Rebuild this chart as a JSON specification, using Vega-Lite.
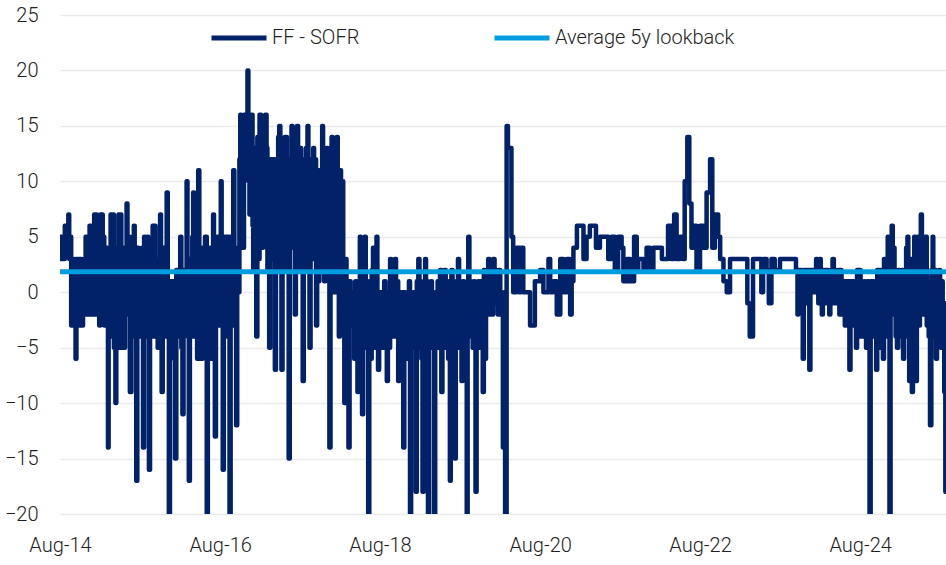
{
  "$schema": "https://vega.github.io/schema/vega-lite/v6.json",
  "width": 886,
  "height": 499,
  "autosize": {"type": "none"},
  "padding": {"left": 60, "top": 15, "right": 0, "bottom": 51},
  "background": "white",
  "config": {
    "view": {"stroke": null},
    "font": "Roboto",
    "axis": {"labelFont": "Roboto", "labelFontSize": 20, "labelColor": "#222222", "labelFontWeight": 300},
    "legend": {"labelFont": "Roboto", "labelFontSize": 20, "labelColor": "#222222", "labelFontWeight": 300}
  },
  "datasets": {
    "ff": [
      {"d":"2014-08-01","v":5},{"d":"2014-08-06","v":3},{"d":"2014-08-11","v":5},{"d":"2014-08-17","v":3},{"d":"2014-08-23","v":6},{"d":"2014-08-30","v":4},
      {"d":"2014-09-04","v":5},{"d":"2014-09-08","v":7},{"d":"2014-09-12","v":3},{"d":"2014-09-16","v":5},{"d":"2014-09-21","v":-3},{"d":"2014-09-26","v":3},
      {"d":"2014-09-30","v":-3},{"d":"2014-10-05","v":3},{"d":"2014-10-08","v":-2},{"d":"2014-10-11","v":-6},{"d":"2014-10-15","v":3},{"d":"2014-10-20","v":-2},
      {"d":"2014-10-25","v":3},{"d":"2014-11-01","v":-3},{"d":"2014-11-05","v":3},{"d":"2014-11-08","v":-3},{"d":"2014-11-14","v":2},{"d":"2014-11-20","v":-2},
      {"d":"2014-11-26","v":5},{"d":"2014-12-01","v":-2},{"d":"2014-12-05","v":5},{"d":"2014-12-08","v":-2},{"d":"2014-12-14","v":6},{"d":"2014-12-20","v":-2},
      {"d":"2014-12-25","v":6},{"d":"2014-12-30","v":-1},{"d":"2015-01-04","v":7},{"d":"2015-01-08","v":-2},{"d":"2015-01-12","v":7},{"d":"2015-01-16","v":-2},
      {"d":"2015-01-22","v":5},{"d":"2015-01-27","v":-3},{"d":"2015-02-01","v":7},{"d":"2015-02-05","v":-2},{"d":"2015-02-08","v":7},{"d":"2015-02-12","v":-2},
      {"d":"2015-02-15","v":5},{"d":"2015-02-19","v":-3},{"d":"2015-02-22","v":4},{"d":"2015-02-26","v":-3},{"d":"2015-03-02","v":4},{"d":"2015-03-05","v":-2},
      {"d":"2015-03-08","v":-14},{"d":"2015-03-11","v":4},{"d":"2015-03-16","v":-4},{"d":"2015-03-20","v":7},{"d":"2015-03-25","v":0},{"d":"2015-03-30","v":7},
      {"d":"2015-04-04","v":-5},{"d":"2015-04-08","v":3},{"d":"2015-04-11","v":-10},{"d":"2015-04-15","v":4},{"d":"2015-04-20","v":-1},{"d":"2015-04-25","v":7},
      {"d":"2015-05-01","v":-5},{"d":"2015-05-05","v":7},{"d":"2015-05-08","v":-1},{"d":"2015-05-13","v":4},{"d":"2015-05-19","v":-5},{"d":"2015-05-25","v":4},
      {"d":"2015-06-01","v":8},{"d":"2015-06-05","v":-2},{"d":"2015-06-11","v":5},{"d":"2015-06-16","v":-9},{"d":"2015-06-23","v":3},{"d":"2015-06-28","v":-3},
      {"d":"2015-07-04","v":6},{"d":"2015-07-08","v":-4},{"d":"2015-07-11","v":3},{"d":"2015-07-15","v":-17},{"d":"2015-07-20","v":4},{"d":"2015-07-25","v":-2},
      {"d":"2015-08-01","v":3},{"d":"2015-08-05","v":-4},{"d":"2015-08-11","v":4},{"d":"2015-08-15","v":-14},{"d":"2015-08-20","v":5},{"d":"2015-08-25","v":-4},
      {"d":"2015-08-30","v":4},{"d":"2015-09-05","v":5},{"d":"2015-09-08","v":-4},{"d":"2015-09-11","v":-16},{"d":"2015-09-16","v":2},{"d":"2015-09-23","v":-4},
      {"d":"2015-09-28","v":6},{"d":"2015-10-04","v":-2},{"d":"2015-10-08","v":6},{"d":"2015-10-11","v":-4},{"d":"2015-10-16","v":3},{"d":"2015-10-21","v":-5},
      {"d":"2015-10-26","v":3},{"d":"2015-11-01","v":7},{"d":"2015-11-05","v":-2},{"d":"2015-11-08","v":-9},{"d":"2015-11-13","v":4},{"d":"2015-11-20","v":-4},
      {"d":"2015-11-25","v":2},{"d":"2015-12-01","v":9},{"d":"2015-12-06","v":-2},{"d":"2015-12-11","v":-25},{"d":"2015-12-16","v":1},{"d":"2015-12-23","v":-4},
      {"d":"2015-12-28","v":1},{"d":"2016-01-03","v":-6},{"d":"2016-01-08","v":-15},{"d":"2016-01-14","v":2},{"d":"2016-01-20","v":-4},{"d":"2016-01-26","v":0},
      {"d":"2016-02-01","v":5},{"d":"2016-02-06","v":-5},{"d":"2016-02-11","v":-11},{"d":"2016-02-16","v":2},{"d":"2016-02-23","v":-3},{"d":"2016-03-01","v":10},
      {"d":"2016-03-05","v":-4},{"d":"2016-03-11","v":-17},{"d":"2016-03-16","v":3},{"d":"2016-03-23","v":-4},{"d":"2016-03-27","v":5},{"d":"2016-03-31","v":9},
      {"d":"2016-04-04","v":-4},{"d":"2016-04-08","v":-2},{"d":"2016-04-14","v":6},{"d":"2016-04-18","v":-6},{"d":"2016-04-23","v":11},{"d":"2016-04-28","v":-2},
      {"d":"2016-05-03","v":4},{"d":"2016-05-08","v":-6},{"d":"2016-05-13","v":4},{"d":"2016-05-18","v":-2},{"d":"2016-05-24","v":5},{"d":"2016-06-01","v":-25},
      {"d":"2016-06-06","v":3},{"d":"2016-06-11","v":-4},{"d":"2016-06-16","v":4},{"d":"2016-06-23","v":-6},{"d":"2016-06-30","v":7},{"d":"2016-07-04","v":-3},
      {"d":"2016-07-08","v":-13},{"d":"2016-07-13","v":4},{"d":"2016-07-18","v":5},{"d":"2016-07-23","v":-3},{"d":"2016-07-28","v":5},{"d":"2016-08-04","v":10},
      {"d":"2016-08-08","v":-3},{"d":"2016-08-13","v":-16},{"d":"2016-08-18","v":5},{"d":"2016-08-23","v":-4},{"d":"2016-08-28","v":5},{"d":"2016-09-03","v":-4},
      {"d":"2016-09-08","v":5},{"d":"2016-09-13","v":-25},{"d":"2016-09-18","v":5},{"d":"2016-09-24","v":-2},{"d":"2016-09-30","v":11},{"d":"2016-10-05","v":-3},
      {"d":"2016-10-09","v":4},{"d":"2016-10-13","v":-12},{"d":"2016-10-18","v":4},{"d":"2016-10-23","v":0},{"d":"2016-10-28","v":12},{"d":"2016-11-01","v":16},
      {"d":"2016-11-05","v":4},{"d":"2016-11-09","v":15},{"d":"2016-11-13","v":4},{"d":"2016-11-18","v":16},{"d":"2016-11-23","v":12},{"d":"2016-11-28","v":16},
      {"d":"2016-12-04","v":20},{"d":"2016-12-08","v":10},{"d":"2016-12-13","v":7},{"d":"2016-12-18","v":14},{"d":"2016-12-23","v":16},{"d":"2016-12-27","v":6},
      {"d":"2016-12-30","v":2},{"d":"2017-01-04","v":13},{"d":"2017-01-08","v":4},{"d":"2017-01-13","v":-4},{"d":"2017-01-18","v":14},{"d":"2017-01-23","v":3},
      {"d":"2017-01-28","v":16},{"d":"2017-02-01","v":16},{"d":"2017-02-04","v":6},{"d":"2017-02-08","v":4},{"d":"2017-02-13","v":15},{"d":"2017-02-18","v":6},
      {"d":"2017-02-23","v":16},{"d":"2017-03-01","v":13},{"d":"2017-03-05","v":2},{"d":"2017-03-09","v":12},{"d":"2017-03-13","v":-5},{"d":"2017-03-18","v":12},
      {"d":"2017-03-23","v":12},{"d":"2017-03-28","v":3},{"d":"2017-04-03","v":12},{"d":"2017-04-08","v":-7},{"d":"2017-04-13","v":10},{"d":"2017-04-18","v":3},
      {"d":"2017-04-23","v":14},{"d":"2017-04-28","v":15},{"d":"2017-05-03","v":2},{"d":"2017-05-08","v":-7},{"d":"2017-05-13","v":13},{"d":"2017-05-18","v":3},
      {"d":"2017-05-23","v":14},{"d":"2017-05-28","v":14},{"d":"2017-06-02","v":2},{"d":"2017-06-06","v":12},{"d":"2017-06-10","v":-15},{"d":"2017-06-15","v":12},
      {"d":"2017-06-19","v":4},{"d":"2017-06-23","v":15},{"d":"2017-06-28","v":5},{"d":"2017-07-03","v":13},{"d":"2017-07-08","v":-2},{"d":"2017-07-13","v":12},
      {"d":"2017-07-18","v":15},{"d":"2017-07-23","v":3},{"d":"2017-07-27","v":2},{"d":"2017-08-01","v":13},{"d":"2017-08-06","v":4},{"d":"2017-08-13","v":-8},
      {"d":"2017-08-18","v":12},{"d":"2017-08-23","v":2},{"d":"2017-08-28","v":13},{"d":"2017-09-04","v":15},{"d":"2017-09-08","v":4},{"d":"2017-09-13","v":-5},
      {"d":"2017-09-18","v":12},{"d":"2017-09-24","v":3},{"d":"2017-09-30","v":13},{"d":"2017-10-04","v":4},{"d":"2017-10-08","v":12},{"d":"2017-10-13","v":-3},
      {"d":"2017-10-18","v":10},{"d":"2017-10-23","v":1},{"d":"2017-10-28","v":11},{"d":"2017-11-03","v":4},{"d":"2017-11-10","v":15},{"d":"2017-11-14","v":2},
      {"d":"2017-11-19","v":1},{"d":"2017-11-24","v":12},{"d":"2017-12-01","v":13},{"d":"2017-12-05","v":2},{"d":"2017-12-09","v":12},{"d":"2017-12-13","v":-14},
      {"d":"2017-12-18","v":11},{"d":"2017-12-23","v":14},{"d":"2017-12-28","v":1},{"d":"2018-01-04","v":0},{"d":"2018-01-09","v":12},{"d":"2018-01-13","v":2},
      {"d":"2018-01-16","v":14},{"d":"2018-01-20","v":1},{"d":"2018-01-25","v":-4},{"d":"2018-01-30","v":11},{"d":"2018-02-04","v":1},{"d":"2018-02-08","v":10},
      {"d":"2018-02-14","v":0},{"d":"2018-02-19","v":-10},{"d":"2018-02-24","v":3},{"d":"2018-03-01","v":1},{"d":"2018-03-05","v":-5},{"d":"2018-03-10","v":-14},
      {"d":"2018-03-15","v":1},{"d":"2018-03-20","v":-3},{"d":"2018-03-25","v":0},{"d":"2018-03-31","v":0},{"d":"2018-04-05","v":-6},{"d":"2018-04-10","v":1},
      {"d":"2018-04-15","v":-4},{"d":"2018-04-20","v":-9},{"d":"2018-04-25","v":0},{"d":"2018-05-01","v":5},{"d":"2018-05-05","v":-4},{"d":"2018-05-11","v":-11},
      {"d":"2018-05-16","v":2},{"d":"2018-05-20","v":-5},{"d":"2018-05-23","v":5},{"d":"2018-05-28","v":-2},{"d":"2018-06-03","v":1},{"d":"2018-06-08","v":-25},
      {"d":"2018-06-13","v":0},{"d":"2018-06-18","v":-6},{"d":"2018-06-24","v":2},{"d":"2018-06-30","v":4},{"d":"2018-07-04","v":-5},{"d":"2018-07-09","v":0},
      {"d":"2018-07-16","v":5},{"d":"2018-07-20","v":-2},{"d":"2018-07-23","v":-7},{"d":"2018-07-28","v":0},{"d":"2018-08-03","v":-4},{"d":"2018-08-08","v":0},
      {"d":"2018-08-14","v":-5},{"d":"2018-08-20","v":1},{"d":"2018-08-26","v":-4},{"d":"2018-09-01","v":-8},{"d":"2018-09-06","v":0},{"d":"2018-09-11","v":-5},
      {"d":"2018-09-16","v":3},{"d":"2018-09-21","v":-3},{"d":"2018-09-26","v":1},{"d":"2018-10-02","v":-4},{"d":"2018-10-08","v":3},{"d":"2018-10-13","v":-4},
      {"d":"2018-10-18","v":1},{"d":"2018-10-23","v":-8},{"d":"2018-10-28","v":0},{"d":"2018-11-03","v":-5},{"d":"2018-11-08","v":0},{"d":"2018-11-15","v":-14},
      {"d":"2018-11-20","v":0},{"d":"2018-11-25","v":-5},{"d":"2018-12-01","v":0},{"d":"2018-12-06","v":-6},{"d":"2018-12-11","v":1},{"d":"2018-12-16","v":-25},
      {"d":"2018-12-21","v":0},{"d":"2018-12-26","v":-5},{"d":"2018-12-31","v":0},{"d":"2019-01-05","v":-5},{"d":"2019-01-11","v":-18},{"d":"2019-01-16","v":1},
      {"d":"2019-01-23","v":3},{"d":"2019-01-28","v":-5},{"d":"2019-02-02","v":1},{"d":"2019-02-06","v":-6},{"d":"2019-02-11","v":-18},{"d":"2019-02-16","v":0},
      {"d":"2019-02-23","v":3},{"d":"2019-02-27","v":-4},{"d":"2019-03-03","v":1},{"d":"2019-03-08","v":-25},{"d":"2019-03-13","v":0},{"d":"2019-03-18","v":-5},
      {"d":"2019-03-22","v":1},{"d":"2019-03-26","v":0},{"d":"2019-03-31","v":-5},{"d":"2019-04-05","v":-25},{"d":"2019-04-10","v":0},{"d":"2019-04-16","v":-2},
      {"d":"2019-04-21","v":1},{"d":"2019-04-26","v":-5},{"d":"2019-05-02","v":2},{"d":"2019-05-08","v":-9},{"d":"2019-05-13","v":0},{"d":"2019-05-18","v":-4},
      {"d":"2019-05-23","v":2},{"d":"2019-05-28","v":-5},{"d":"2019-06-03","v":1},{"d":"2019-06-08","v":-6},{"d":"2019-06-12","v":0},{"d":"2019-06-16","v":-17},
      {"d":"2019-06-20","v":1},{"d":"2019-06-23","v":2},{"d":"2019-06-28","v":-5},{"d":"2019-07-03","v":1},{"d":"2019-07-08","v":-15},{"d":"2019-07-13","v":0},
      {"d":"2019-07-18","v":-4},{"d":"2019-07-23","v":3},{"d":"2019-07-28","v":-5},{"d":"2019-08-03","v":0},{"d":"2019-08-08","v":-8},{"d":"2019-08-14","v":1},
      {"d":"2019-08-20","v":0},{"d":"2019-08-25","v":-5},{"d":"2019-09-01","v":-25},{"d":"2019-09-05","v":0},{"d":"2019-09-08","v":5},{"d":"2019-09-13","v":-4},
      {"d":"2019-09-18","v":1},{"d":"2019-09-23","v":0},{"d":"2019-09-28","v":-5},{"d":"2019-10-04","v":1},{"d":"2019-10-08","v":-4},{"d":"2019-10-11","v":-18},
      {"d":"2019-10-16","v":0},{"d":"2019-10-23","v":1},{"d":"2019-10-28","v":-5},{"d":"2019-11-03","v":1},{"d":"2019-11-08","v":-4},{"d":"2019-11-13","v":-9},
      {"d":"2019-11-18","v":2},{"d":"2019-11-23","v":-6},{"d":"2019-11-28","v":1},{"d":"2019-12-03","v":-2},{"d":"2019-12-08","v":3},{"d":"2019-12-13","v":-2},
      {"d":"2019-12-18","v":2},{"d":"2019-12-23","v":-2},{"d":"2019-12-31","v":3},{"d":"2020-01-06","v":-1},{"d":"2020-01-11","v":2},{"d":"2020-01-16","v":1},
      {"d":"2020-01-21","v":-2},{"d":"2020-01-26","v":2},{"d":"2020-02-01","v":0},{"d":"2020-02-06","v":-2},{"d":"2020-02-13","v":-14},{"d":"2020-02-18","v":0},
      {"d":"2020-02-23","v":-25},{"d":"2020-03-01","v":15},{"d":"2020-03-07","v":13},{"d":"2020-03-13","v":13},{"d":"2020-03-23","v":5},{"d":"2020-03-31","v":0},
      {"d":"2020-04-16","v":4},{"d":"2020-04-28","v":0},{"d":"2020-05-04","v":4},{"d":"2020-05-16","v":0},{"d":"2020-06-04","v":0},{"d":"2020-06-16","v":-3},
      {"d":"2020-06-30","v":-3},{"d":"2020-07-08","v":1},{"d":"2020-08-01","v":2},{"d":"2020-08-16","v":0},{"d":"2020-09-08","v":3},{"d":"2020-09-16","v":0},
      {"d":"2020-09-30","v":1},{"d":"2020-10-16","v":-2},{"d":"2020-11-01","v":3},{"d":"2020-11-16","v":0},{"d":"2020-12-01","v":3},{"d":"2020-12-16","v":-2},
      {"d":"2020-12-23","v":1},{"d":"2020-12-31","v":4},{"d":"2021-01-16","v":6},{"d":"2021-02-08","v":6},{"d":"2021-02-15","v":3},{"d":"2021-03-01","v":5},
      {"d":"2021-03-16","v":6},{"d":"2021-03-31","v":6},{"d":"2021-04-13","v":4},{"d":"2021-05-01","v":5},{"d":"2021-05-16","v":5},{"d":"2021-06-08","v":3},
      {"d":"2021-06-23","v":5},{"d":"2021-07-08","v":2},{"d":"2021-07-23","v":5},{"d":"2021-08-08","v":4},{"d":"2021-08-16","v":1},{"d":"2021-09-01","v":3},
      {"d":"2021-09-16","v":1},{"d":"2021-10-04","v":5},{"d":"2021-10-16","v":2},{"d":"2021-10-23","v":3},{"d":"2021-11-16","v":2},{"d":"2021-11-30","v":4},
      {"d":"2021-12-16","v":2},{"d":"2021-12-31","v":4},{"d":"2022-01-23","v":4},{"d":"2022-02-08","v":3},{"d":"2022-02-23","v":3},{"d":"2022-03-08","v":6},
      {"d":"2022-03-23","v":3},{"d":"2022-04-05","v":7},{"d":"2022-04-16","v":3},{"d":"2022-05-01","v":5},{"d":"2022-05-16","v":3},{"d":"2022-05-23","v":10},
      {"d":"2022-06-04","v":14},{"d":"2022-06-13","v":8},{"d":"2022-06-23","v":4},{"d":"2022-07-05","v":6},{"d":"2022-07-16","v":2},{"d":"2022-08-01","v":6},
      {"d":"2022-08-16","v":4},{"d":"2022-08-31","v":9},{"d":"2022-09-16","v":12},{"d":"2022-09-26","v":4},{"d":"2022-10-08","v":7},{"d":"2022-10-23","v":5},
      {"d":"2022-11-01","v":3},{"d":"2022-11-16","v":1},{"d":"2022-12-01","v":0},{"d":"2022-12-16","v":3},{"d":"2023-01-08","v":3},{"d":"2023-02-08","v":3},
      {"d":"2023-02-23","v":3},{"d":"2023-03-05","v":-1},{"d":"2023-03-16","v":-4},{"d":"2023-03-31","v":3},{"d":"2023-04-23","v":3},{"d":"2023-05-08","v":0},
      {"d":"2023-05-16","v":3},{"d":"2023-06-01","v":2},{"d":"2023-06-11","v":-1},{"d":"2023-06-23","v":3},{"d":"2023-07-08","v":2},{"d":"2023-08-01","v":3},
      {"d":"2023-08-20","v":3},{"d":"2023-09-16","v":3},{"d":"2023-10-01","v":3},{"d":"2023-10-13","v":2},{"d":"2023-10-20","v":-2},{"d":"2023-10-24","v":2},
      {"d":"2023-10-28","v":0},{"d":"2023-11-03","v":2},{"d":"2023-11-08","v":-1},{"d":"2023-11-13","v":-6},{"d":"2023-11-18","v":2},{"d":"2023-11-23","v":0},
      {"d":"2023-11-28","v":2},{"d":"2023-12-03","v":-1},{"d":"2023-12-08","v":2},{"d":"2023-12-13","v":-7},{"d":"2023-12-18","v":2},{"d":"2023-12-23","v":1},
      {"d":"2023-12-28","v":2},{"d":"2024-01-04","v":0},{"d":"2024-01-13","v":3},{"d":"2024-01-18","v":2},{"d":"2024-01-23","v":-1},{"d":"2024-01-28","v":3},
      {"d":"2024-02-03","v":1},{"d":"2024-02-08","v":-2},{"d":"2024-02-13","v":2},{"d":"2024-02-18","v":1},{"d":"2024-02-23","v":2},{"d":"2024-02-28","v":-1},
      {"d":"2024-03-04","v":2},{"d":"2024-03-09","v":0},{"d":"2024-03-13","v":-2},{"d":"2024-03-18","v":2},{"d":"2024-03-23","v":0},{"d":"2024-03-28","v":3},
      {"d":"2024-04-03","v":-1},{"d":"2024-04-08","v":2},{"d":"2024-04-13","v":-1},{"d":"2024-04-18","v":1},{"d":"2024-04-23","v":2},{"d":"2024-04-28","v":-2},
      {"d":"2024-05-03","v":2},{"d":"2024-05-08","v":0},{"d":"2024-05-13","v":-2},{"d":"2024-05-18","v":1},{"d":"2024-05-23","v":-3},{"d":"2024-05-28","v":1},
      {"d":"2024-06-03","v":-2},{"d":"2024-06-08","v":1},{"d":"2024-06-13","v":-7},{"d":"2024-06-18","v":1},{"d":"2024-06-23","v":-3},{"d":"2024-06-28","v":1},
      {"d":"2024-07-03","v":-3},{"d":"2024-07-08","v":0},{"d":"2024-07-13","v":-5},{"d":"2024-07-18","v":2},{"d":"2024-07-23","v":-2},{"d":"2024-07-28","v":2},
      {"d":"2024-08-03","v":-4},{"d":"2024-08-08","v":1},{"d":"2024-08-13","v":-2},{"d":"2024-08-18","v":1},{"d":"2024-08-23","v":-4},{"d":"2024-08-28","v":-5},
      {"d":"2024-09-03","v":1},{"d":"2024-09-08","v":-3},{"d":"2024-09-13","v":-25},{"d":"2024-09-18","v":1},{"d":"2024-09-23","v":-3},{"d":"2024-09-28","v":1},
      {"d":"2024-10-03","v":-4},{"d":"2024-10-08","v":1},{"d":"2024-10-13","v":-7},{"d":"2024-10-18","v":2},{"d":"2024-10-23","v":-3},{"d":"2024-10-28","v":2},
      {"d":"2024-11-03","v":-5},{"d":"2024-11-08","v":1},{"d":"2024-11-13","v":-6},{"d":"2024-11-18","v":3},{"d":"2024-11-23","v":-4},{"d":"2024-11-28","v":3},
      {"d":"2024-12-02","v":-2},{"d":"2024-12-05","v":5},{"d":"2024-12-09","v":-3},{"d":"2024-12-13","v":-25},{"d":"2024-12-18","v":2},{"d":"2024-12-23","v":6},
      {"d":"2024-12-28","v":-2},{"d":"2025-01-01","v":4},{"d":"2025-01-05","v":2},{"d":"2025-01-10","v":-4},{"d":"2025-01-16","v":-5},{"d":"2025-01-22","v":2},
      {"d":"2025-01-28","v":1},{"d":"2025-02-03","v":-4},{"d":"2025-02-08","v":2},{"d":"2025-02-13","v":-6},{"d":"2025-02-18","v":1},{"d":"2025-02-23","v":-4},
      {"d":"2025-02-27","v":4},{"d":"2025-03-01","v":-2},{"d":"2025-03-05","v":5},{"d":"2025-03-09","v":-4},{"d":"2025-03-13","v":-8},{"d":"2025-03-18","v":3},
      {"d":"2025-03-25","v":-9},{"d":"2025-03-30","v":3},{"d":"2025-04-05","v":5},{"d":"2025-04-09","v":-3},{"d":"2025-04-13","v":-8},{"d":"2025-04-17","v":3},
      {"d":"2025-04-20","v":5},{"d":"2025-04-25","v":-3},{"d":"2025-05-01","v":5},{"d":"2025-05-05","v":7},{"d":"2025-05-10","v":-2},{"d":"2025-05-15","v":5},
      {"d":"2025-05-20","v":-2},{"d":"2025-05-24","v":2},{"d":"2025-05-28","v":5},{"d":"2025-06-01","v":-3},{"d":"2025-06-05","v":1},{"d":"2025-06-10","v":-4},
      {"d":"2025-06-16","v":-12},{"d":"2025-06-22","v":2},{"d":"2025-06-28","v":5},{"d":"2025-07-01","v":-2},{"d":"2025-07-05","v":-4},{"d":"2025-07-09","v":2},
      {"d":"2025-07-13","v":-6},{"d":"2025-07-18","v":1},{"d":"2025-07-23","v":-3},{"d":"2025-07-28","v":2},{"d":"2025-08-01","v":-2},{"d":"2025-08-05","v":-5},
      {"d":"2025-08-09","v":1},{"d":"2025-08-13","v":-1},{"d":"2025-08-17","v":-5},{"d":"2025-08-20","v":-9},{"d":"2025-08-23","v":-1},{"d":"2025-08-25","v":-18},
      {"d":"2025-08-28","v":-18}
    ],
    "avg": [
      {"d":"2014-08-01","v":1.85},{"d":"2025-08-28","v":1.85}
    ],
    "zero": [{"v":0}]
  },
  "layer": [
    {
      "data": {"name": "zero"},
      "mark": {"type": "rule", "color": "#222222", "strokeWidth": 2},
      "encoding": {"y": {"field": "v", "type": "quantitative", "scale": {"domain": [-20, 25]}}}
    },
    {
      "data": {"name": "ff"},
      "transform": [{"calculate": "'FF - SOFR'", "as": "s"}],
      "mark": {"type": "line", "strokeWidth": 4.5, "strokeCap": "round", "strokeJoin": "round", "interpolate": "step-after", "clip": true},
      "encoding": {
        "x": {"field": "d", "type": "temporal"},
        "y": {"field": "v", "type": "quantitative"},
        "color": {"field": "s", "type": "nominal"}
      }
    },
    {
      "data": {"name": "avg"},
      "transform": [{"calculate": "'Average 5y lookback'", "as": "s"}],
      "mark": {"type": "line", "strokeWidth": 5, "clip": true},
      "encoding": {
        "x": {"field": "d", "type": "temporal"},
        "y": {"field": "v", "type": "quantitative"},
        "color": {"field": "s", "type": "nominal"}
      }
    }
  ],
  "resolve": {"scale": {"x": "shared", "y": "shared", "color": "shared"}},
  "encoding": {
    "x": {
      "field": "d", "type": "temporal", "title": null,
      "scale": {"type": "utc", "domain": [{"year": 2014, "month": 8, "date": 1, "utc": true}, {"year": 2025, "month": 8, "date": 28, "utc": true}]},
      "axis": {
        "values": [
          {"year": 2014, "month": 8, "date": 1, "utc": true},
          {"year": 2016, "month": 8, "date": 1, "utc": true},
          {"year": 2018, "month": 8, "date": 1, "utc": true},
          {"year": 2020, "month": 8, "date": 1, "utc": true},
          {"year": 2022, "month": 8, "date": 1, "utc": true},
          {"year": 2024, "month": 8, "date": 1, "utc": true}
        ],
        "format": "%b-%y", "ticks": false, "domain": false, "grid": false, "labelPadding": 21, "labelFlush": false
      }
    },
    "y": {
      "field": "v", "type": "quantitative", "title": null,
      "scale": {"domain": [-20, 25], "nice": false, "zero": false},
      "axis": {"values": [-20, -15, -10, -5, 0, 5, 10, 15, 20, 25], "ticks": false, "domain": false, "grid": true, "gridColor": "#ebebeb", "gridWidth": 1.5, "labelPadding": 22}
    },
    "color": {
      "field": "s", "type": "nominal",
      "scale": {"domain": ["FF - SOFR", "Average 5y lookback"], "range": ["#012169", "#009CDE"]},
      "legend": {
        "title": null, "orient": "none", "direction": "horizontal", "legendX": 149, "legendY": -7,
        "symbolType": "stroke", "symbolSize": 3025, "symbolStrokeWidth": 5, "labelOffset": 3, "columnPadding": 124, "padding": 0, "labelLimit": 0
      }
    }
  }
}
